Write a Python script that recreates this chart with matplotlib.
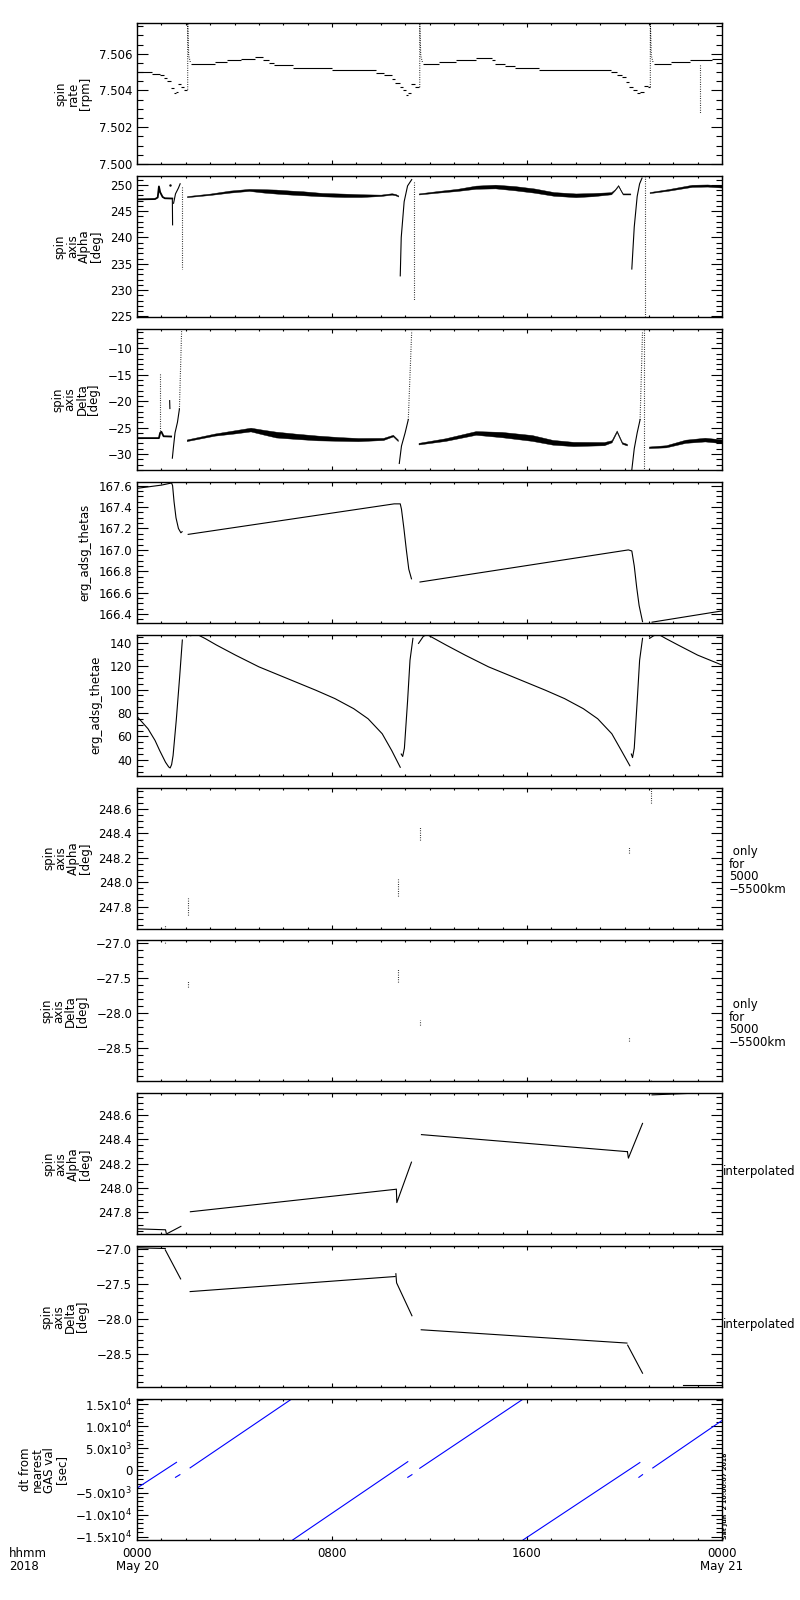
import matplotlib
matplotlib.use("Agg")
import matplotlib.pyplot as plt
import numpy as np
from matplotlib.ticker import MultipleLocator

# hours after 0000 UT, 2018 May 20
hour_ticks = [0, 8, 16, 24]
hour_labels = ["0000\nMay 20", "0800", "1600", "0000\nMay 21"]

# ---- panel 1: spin rate [rpm] (quantised levels, each value holds until the next time)
rate_t = [
    [0.0, 0.6, 0.95, 1.1, 1.25, 1.4, 1.5, 1.62, 1.7, 1.8, 1.93, 2.06],
    [2.22, 3.22, 3.7, 4.25, 4.85, 5.16, 5.4, 5.64, 6.4, 8.0, 9.82, 10.14, 10.45,
     10.6, 10.77, 10.9, 11.02, 11.1, 11.24, 11.42, 11.58],
    [11.72, 12.4, 13.1, 13.9, 14.56, 14.7, 15.1, 15.5, 16.5, 19.45, 19.7, 19.9,
     20.05, 20.2, 20.35, 20.5, 20.65, 20.8, 20.95, 21.04],
    [21.2, 21.9, 22.7, 23.6, 24.0],
]
rate_v = [
    [7.50500, 7.50488, 7.50482, 7.50470, 7.50450, 7.50415, 7.50385, 7.50392,
     7.50433, 7.50420, 7.50405, 7.50405],
    [7.50545, 7.50555, 7.50567, 7.50573, 7.50582, 7.50567, 7.50549, 7.50536,
     7.50524, 7.50509, 7.50495, 7.50482, 7.50464, 7.50440, 7.50420, 7.50400,
     7.50376, 7.50385, 7.50433, 7.50418, 7.50418],
    [7.50545, 7.50555, 7.50567, 7.50575, 7.50564, 7.50545, 7.50533, 7.50524,
     7.50509, 7.50500, 7.50482, 7.50473, 7.50445, 7.50420, 7.50400, 7.50385,
     7.50390, 7.50427, 7.50418, 7.50418],
    [7.50545, 7.50555, 7.50567, 7.50573, 7.50573],
]
rate_spike_t = [[2.08, 2.08, 2.12, 2.2], [11.6, 11.6, 11.64, 11.72], [21.06, 21.06, 21.1, 21.18]]
rate_spike_v = [[7.50405, 7.5078, 7.5059, 7.50548], [7.50418, 7.5078, 7.5059, 7.50548],
                [7.50418, 7.5078, 7.5059, 7.50548]]
rate_drop_t = [23.08, 23.08]
rate_drop_v = [7.50536, 7.50273]

# ---- panel 2: spin axis Alpha [deg]
alpha_pre_t = [0.0, 0.74, 0.85, 0.9, 0.95, 1.05, 1.14, 1.45]
alpha_pre_v = [247.24, 247.3, 247.6, 249.7, 248.6, 247.7, 247.45, 247.4]
alpha_band_t = [
    [2.05, 3.0, 3.82, 4.6, 5.2, 5.7, 6.3, 6.8, 7.6, 8.5, 9.2, 10.0, 10.45, 10.6, 10.72],
    [11.56, 12.3, 13.14, 13.9, 14.7, 15.5, 16.3, 17.1, 18.0, 18.7, 19.45, 19.6,
     19.74, 19.85, 19.93, 20.24],
    [21.03, 21.8, 22.77, 23.4, 24.0],
]
alpha_band_v = [
    [247.76, 248.21, 248.72, 249.04, 248.85, 248.72, 248.53, 248.40, 248.14,
     248.01, 247.95, 248.01, 248.27, 248.14, 247.88],
    [248.27, 248.65, 249.04, 249.55, 249.68, 249.36, 248.91, 248.27, 248.01,
     248.14, 248.40, 249.04, 249.87, 248.91, 248.27, 248.27],
    [248.53, 249.04, 249.81, 249.87, 249.68],
]
alpha_band_w = [
    [0.1, 0.13, 0.19, 0.19, 0.32, 0.38, 0.38, 0.38, 0.32, 0.32, 0.26, 0.13, 0.13, 0.13, 0.1],
    [0.1, 0.15, 0.2, 0.3, 0.35, 0.4, 0.4, 0.35, 0.35, 0.3, 0.2, 0.1, 0.1, 0.1, 0.1, 0.1],
    [0.1, 0.15, 0.2, 0.2, 0.2],
]
alpha_jump_t = [[1.45, 1.46], [1.5, 1.58, 1.7, 1.77],
                [10.8, 10.84, 10.96, 11.1, 11.27],
                [20.3, 20.4, 20.52, 20.62, 20.72]]
alpha_jump_v = [[247.3, 242.4], [246.5, 248.3, 249.4, 250.2],
                [232.7, 240.0, 246.8, 249.8, 251.0],
                [234.0, 242.0, 247.8, 250.2, 251.3]]
alpha_dot_t = [1.85, 11.37, 20.84]
alpha_dot_top = [249.5, 250.6, 251.6]
alpha_dot_bot = [234.0, 227.9, 224.9]

# ---- panel 3: spin axis Delta [deg]
delta_pre_t = [0.0, 0.9, 0.95, 1.0, 1.09, 1.4]
delta_pre_v = [-27.0, -27.0, -26.0, -25.8, -26.65, -26.7]
delta_band_t = [
    [2.04, 3.19, 4.0, 4.66, 5.2, 5.7, 6.5, 7.4, 8.3, 9.07, 10.1, 10.5, 10.7],
    [11.55, 12.65, 13.9, 14.96, 16.2, 17.05, 17.9, 19.16, 19.47, 19.68, 19.9, 20.1],
    [21.0, 21.7, 22.5, 23.3, 24.0],
]
delta_band_v = [
    [-27.41, -26.33, -25.82, -25.38, -25.89, -26.33, -26.65, -26.97, -27.16,
     -27.28, -27.16, -26.52, -27.41],
    [-28.05, -27.28, -26.02, -26.33, -26.97, -27.79, -28.11, -28.05, -27.6,
     -25.70, -27.92, -28.24],
    [-28.74, -28.55, -27.6, -27.28, -27.6],
]
delta_band_w = [
    [0.15, 0.2, 0.3, 0.35, 0.45, 0.55, 0.5, 0.45, 0.35, 0.3, 0.2, 0.15, 0.15],
    [0.15, 0.25, 0.35, 0.5, 0.55, 0.45, 0.4, 0.3, 0.2, 0.15, 0.15, 0.15],
    [0.15, 0.2, 0.3, 0.35, 0.35],
]
delta_jump_t = [[1.34, 1.35], [1.45, 1.5, 1.56, 1.66, 1.74],
                [10.76, 10.85, 11.0, 11.13], [20.3, 20.4, 20.52, 20.64]]
delta_jump_v = [[-19.9, -21.4], [-30.8, -28.5, -26.0, -24.0, -21.5],
                [-31.8, -28.5, -26.0, -23.5], [-33.0, -29.0, -26.0, -23.5]]
delta_dot_t = [[0.94, 0.94], [1.74, 1.83], [11.13, 11.27], [20.64, 20.74], [20.8, 20.8]]
delta_dot_v = [[-14.9, -25.9], [-21.5, -6.7], [-23.5, -6.7], [-23.5, -6.7], [-6.5, -33.0]]

# ---- panel 4: erg_adsg_thetas
thetas_t = [
    [0.0, 0.5, 1.0, 1.42, 1.46, 1.52, 1.6, 1.7, 1.8, 1.85],
    [2.1, 10.55, 10.8, 10.85, 10.95, 11.05, 11.15, 11.26],
    [11.61, 20.16, 20.3, 20.4, 20.5, 20.6, 20.74],
    [21.13, 24.0],
]
thetas_v = [
    [167.575, 167.59, 167.605, 167.625, 167.6, 167.45, 167.3, 167.2, 167.16, 167.17],
    [167.145, 167.43, 167.43, 167.38, 167.2, 167.0, 166.82, 166.73],
    [166.70, 167.0, 166.99, 166.85, 166.65, 166.48, 166.33],
    [166.325, 166.43],
]

# ---- panel 5: erg_adsg_thetae
thetae_t = [
    [0.0, 0.45, 0.74, 0.93, 1.17, 1.3, 1.36, 1.42, 1.48, 1.61, 1.75, 1.86],
    [2.19, 2.49, 2.8, 3.26, 4.04, 5.0, 6.17, 7.34, 8.12, 8.89, 9.48, 10.06, 10.45, 10.8],
    [10.84, 10.9, 10.97, 11.1, 11.2, 11.32],
    [11.55, 11.75, 11.91, 12.2, 12.68, 13.46, 14.42, 15.59, 16.76, 17.54, 18.31,
     18.9, 19.48, 19.87, 20.22],
    [20.28, 20.33, 20.4, 20.52, 20.62, 20.74],
    [21.03, 21.2, 21.42, 21.7, 22.2, 23.0, 24.0],
]
thetae_v = [
    [77.1, 66.6, 56.6, 48.0, 38.0, 34.0, 33.1, 36.0, 43.7, 73.7, 110.9, 142.3],
    [146.0, 146.8, 143.5, 138.0, 129.4, 119.4, 109.4, 99.4, 92.3, 83.7, 75.1, 62.3, 48.0, 33.7],
    [45.0, 42.9, 50.0, 90.0, 125.0, 143.7],
    [139.4, 145.5, 146.8, 143.5, 138.0, 129.4, 119.4, 109.4, 99.4, 92.3, 83.7,
     75.1, 62.3, 48.0, 35.0],
    [45.0, 42.0, 50.0, 90.0, 125.0, 143.7],
    [143.7, 146.0, 146.8, 143.5, 138.0, 129.4, 120.9],
]

# ---- panels 6/7: only for 5000-5500 km
sel_t = [1.16, 2.1, 10.7, 11.6, 20.2, 21.1]
sel_alpha_lo = [247.62, 247.73, 247.89, 248.35, 248.24, 248.65]
sel_alpha_hi = [247.65, 247.87, 248.03, 248.46, 248.29, 248.77]
sel_delta_lo = [-27.0, -27.62, -27.55, -28.17, -28.4, -28.97]
sel_delta_hi = [-26.96, -27.53, -27.36, -28.1, -28.34, -28.94]

# ---- panel 8: interpolated Alpha
ialpha_t = [[0.0, 1.17, 1.2], [1.22, 1.8], [2.19, 10.6], [10.64, 10.66, 11.26],
            [11.67, 20.12], [20.12, 20.16, 20.74], [21.13, 23.1]]
ialpha_v = [[247.665, 247.657, 247.63], [247.624, 247.685], [247.805, 247.989],
            [247.99, 247.88, 248.212], [248.438, 248.298], [248.298, 248.245, 248.53],
            [248.764, 248.78]]

# ---- panel 9: interpolated Delta
idelta_t = [[0.0, 1.16], [1.16, 1.79], [2.18, 10.59], [10.62, 10.65, 11.28],
            [11.66, 20.1], [20.13, 20.74], [22.4, 24.0]]
idelta_v = [[-26.98, -26.99], [-27.01, -27.424], [-27.605, -27.39], [-27.35, -27.48, -27.95],
            [-28.15, -28.34], [-28.37, -28.77], [-28.94, -28.94]]

# ---- panel 10: dt from nearest GAS val [sec]
dt_t = [[0.0, 1.62], [1.58, 1.76], [2.18, 6.34], [6.39, 11.11], [11.11, 11.28],
        [11.6, 15.84], [15.84, 20.63], [20.59, 20.74], [21.16, 24.0]]
dt_v = [[-4000, 1850], [-1550, -950], [600, 16200], [-15760, 2000], [-1550, -950],
        [500, 16200], [-15760, 1800], [-1550, -950], [570, 11340]]
dt_ticks = [-15000, -10000, -5000, 0, 5000, 10000, 15000]
dt_labels = ["\u22121.5x10$^{4}$", "\u22121.0x10$^{4}$", "\u22125.0x10$^{3}$", "0",
             "5.0x10$^{3}$", "1.0x10$^{4}$", "1.5x10$^{4}$"]

LW = 0.8
DOT = (0, (0.7, 1.4))


def minus(s):
    return s.replace("-", "\u2212")


def style(ax, ylim, yticks, fmt, yminor, ylabel):
    ax.set_xlim(0, 24)
    ax.set_ylim(*ylim)
    ax.set_xticks(hour_ticks)
    ax.xaxis.set_minor_locator(MultipleLocator(1))
    ax.set_yticks(yticks)
    if fmt is not None:
        ax.set_yticklabels([minus(fmt % v) for v in yticks])
    ax.yaxis.set_minor_locator(MultipleLocator(yminor))
    ax.tick_params(which="both", direction="in", top=True, right=True,
                   width=0.8, labelsize=8.5, labelbottom=False)
    ax.tick_params(axis="y", which="major", length=8)
    ax.tick_params(axis="y", which="minor", length=4.3)
    ax.tick_params(axis="x", which="major", length=3)
    ax.tick_params(axis="x", which="minor", length=1.6)
    for sp in ax.spines.values():
        sp.set_linewidth(1.0)
    ax.set_ylabel(ylabel, fontsize=8.5, linespacing=0.9, labelpad=5,
                  multialignment="center")


def band(ax, t, v, w):
    v = np.array(v)
    w = np.array(w)
    ax.fill_between(t, v - w, v + w, color="k", lw=0.3)


fig = plt.figure(figsize=(8, 16), dpi=100)
axes = []
for i in range(10):
    top = 23 + 152.9 * i
    axes.append(fig.add_axes([137 / 800, 1 - (top + 141) / 1600, 585 / 800, 141 / 1600]))

# 1
ax = axes[0]
for t, v in zip(rate_t, rate_v):
    ax.hlines(v[:-1], t[:-1], t[1:], color="k", lw=LW)
for t, v in zip(rate_spike_t, rate_spike_v):
    ax.plot(t, v, color="k", lw=LW, ls=DOT)
ax.plot(rate_drop_t, rate_drop_v, color="k", lw=LW, ls=DOT)
style(ax, (7.5000, 7.50767), [7.500, 7.502, 7.504, 7.506], "%.3f", 0.0005,
      "spin\nrate\n[rpm]")

# 2
ax = axes[1]
ax.plot(alpha_pre_t, alpha_pre_v, color="k", lw=1.3)
ax.plot([1.34], [249.9], "k.", ms=1.5)
for t, v, w in zip(alpha_band_t, alpha_band_v, alpha_band_w):
    band(ax, t, v, w)
for t, v in zip(alpha_jump_t, alpha_jump_v):
    ax.plot(t, v, color="k", lw=LW)
for t, a, b in zip(alpha_dot_t, alpha_dot_top, alpha_dot_bot):
    ax.plot([t, t], [a, b], color="k", lw=LW, ls=DOT)
style(ax, (224.9, 251.7), [225, 230, 235, 240, 245, 250], "%d", 1,
      "spin\naxis\nAlpha\n[deg]")

# 3
ax = axes[2]
ax.plot(delta_pre_t, delta_pre_v, color="k", lw=1.3)
for t, v, w in zip(delta_band_t, delta_band_v, delta_band_w):
    band(ax, t, v, w)
for t, v in zip(delta_jump_t, delta_jump_v):
    ax.plot(t, v, color="k", lw=LW)
for t, v in zip(delta_dot_t, delta_dot_v):
    ax.plot(t, v, color="k", lw=LW, ls=DOT)
style(ax, (-33.0, -6.3), [-30, -25, -20, -15, -10], "%d", 1,
      "spin\naxis\nDelta\n[deg]")

# 4
ax = axes[3]
for t, v in zip(thetas_t, thetas_v):
    ax.plot(t, v, color="k", lw=LW)
style(ax, (166.32, 167.637), [166.4, 166.6, 166.8, 167.0, 167.2, 167.4, 167.6], "%.1f",
      0.05, "erg_adsg_thetas")

# 5
ax = axes[4]
for t, v in zip(thetae_t, thetae_v):
    ax.plot(t, v, color="k", lw=LW)
style(ax, (26.6, 146.9), [40, 60, 80, 100, 120, 140], "%d", 5, "erg_adsg_thetae")

# 6
ax = axes[5]
ax.vlines(sel_t, sel_alpha_lo, sel_alpha_hi, color="k", lw=LW, ls=DOT)
style(ax, (247.62, 248.777), [247.8, 248.0, 248.2, 248.4, 248.6], "%.1f", 0.05,
      "spin\naxis\nAlpha\n[deg]")
ax.text(1.012, 0.41, " only\nfor\n5000\n\u22125500km", transform=ax.transAxes,
        ha="left", va="center", fontsize=8.5, linespacing=0.95)

# 7
ax = axes[6]
ax.vlines(sel_t, sel_delta_lo, sel_delta_hi, color="k", lw=LW, ls=DOT)
style(ax, (-28.97, -26.957), [-28.5, -28.0, -27.5, -27.0], "%.1f", 0.1,
      "spin\naxis\nDelta\n[deg]")
ax.text(1.012, 0.41, " only\nfor\n5000\n\u22125500km", transform=ax.transAxes,
        ha="left", va="center", fontsize=8.5, linespacing=0.95)

# 8
ax = axes[7]
for t, v in zip(ialpha_t, ialpha_v):
    ax.plot(t, v, color="k", lw=LW)
style(ax, (247.62, 248.777), [247.8, 248.0, 248.2, 248.4, 248.6], "%.1f", 0.05,
      "spin\naxis\nAlpha\n[deg]")
ax.text(1.002, 0.447, "interpolated", transform=ax.transAxes, ha="left",
        va="center", fontsize=8.5)

# 9
ax = axes[8]
for t, v in zip(idelta_t, idelta_v):
    ax.plot(t, v, color="k", lw=LW)
style(ax, (-28.97, -26.957), [-28.5, -28.0, -27.5, -27.0], "%.1f", 0.1,
      "spin\naxis\nDelta\n[deg]")
ax.text(1.002, 0.447, "interpolated", transform=ax.transAxes, ha="left",
        va="center", fontsize=8.5)

# 10
ax = axes[9]
for t, v in zip(dt_t, dt_v):
    ax.plot(t, v, color="#0000ff", lw=LW)
style(ax, (-15800, 16200), dt_ticks, None, 1000, "dt from\nnearest\nGAS val\n[sec]")
ax.set_yticklabels(dt_labels)
ax.tick_params(labelbottom=True)
ax.set_xticklabels(hour_labels, fontsize=8.5, linespacing=0.95)
ax.tick_params(axis="x", pad=5)

fig.text(9 / 800, 1 - 1547 / 1600, "hhmm\n2018", ha="left", va="top", fontsize=8.5,
         linespacing=0.95)
fig.text(723 / 800, 1 - 1539 / 1600, "Sat Jun  2 10:00:07 2018", rotation=90,
         ha="left", va="bottom", fontsize=4.5, fontweight="bold")

fig.savefig("out.png", dpi=100)
